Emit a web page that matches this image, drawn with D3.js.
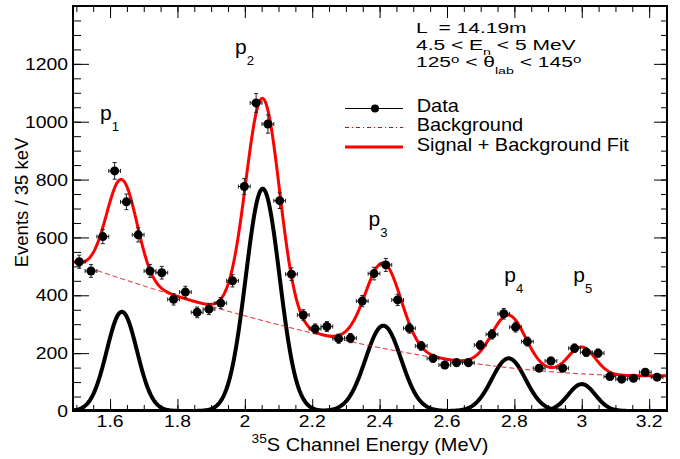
<!DOCTYPE html>
<html>
<head>
<meta charset="utf-8">
<script src="https://cdn.jsdelivr.net/npm/d3@7"></script>
<style>
body { margin: 0; background: #fff; }
text { font-family: "Liberation Sans", Arial, Helvetica, sans-serif; fill: #000; white-space: pre; }
</style>
</head>
<body>
<svg id="chart" width="680" height="459"></svg>
<script>
// bin centres (MeV) and counts per 35 keV bin
var energies = [1.5085, 1.5435, 1.5785, 1.6135, 1.6485, 1.6835, 1.7185, 1.7535, 1.7885, 1.8235,
                1.8585, 1.8935, 1.9285, 1.9635, 1.9985, 2.0335, 2.0685, 2.1035, 2.1385, 2.1735,
                2.2085, 2.2435, 2.2785, 2.3135, 2.3485, 2.3835, 2.4185, 2.4535, 2.4885, 2.5235,
                2.5585, 2.5935, 2.6285, 2.6635, 2.6985, 2.7335, 2.7685, 2.8035, 2.8385, 2.8735,
                2.9085, 2.9435, 2.9785, 3.0135, 3.0485, 3.0835, 3.1185, 3.1535, 3.1885, 3.2235];
var counts = [516, 484, 603, 830, 723, 609, 484, 478, 386, 411,
              341, 352, 373, 450, 776, 1065, 992, 727, 473, 332,
              284, 292, 250, 252, 380, 475, 505, 384, 286, 225,
              182, 159, 167, 167, 228, 265, 336, 290, 240, 148,
              173, 148, 217, 203, 200, 119, 110, 113, 134, 117];
var binHalfWidth = 0.0175;

// fitted peaks p1..p5 (gaussians)
var peakNames = ["1", "2", "3", "4", "5"];
var peakCenters = [1.635, 2.053, 2.411, 2.783, 3.0];
var peakAmps = [343, 768, 295, 182, 93];
var peakSigmas = [0.045, 0.05, 0.053, 0.05, 0.04];
// background polynomial in (E - 1.5)
var bgCoefs = [509.9, -401.65, 70.34, 18.58];
var bgStart = 1.54;

// peak label anchors (data coords)
var peakLabelE = [1.570, 1.971, 2.367, 2.770, 2.975];
var peakLabelY = [1005, 1235, 638, 446, 446];

var xTicks = [1.6, 1.8, 2, 2.2, 2.4, 2.6, 2.8, 3, 3.2];
var yTicks = [0, 200, 400, 600, 800, 1000, 1200];

var pl = 73, pr = 667, pt = 6, pb = 411;
var svg = d3.select("#chart");

var x = d3.scaleLinear().domain([1.49, 3.253]).range([pl, pr]);
var y = d3.scaleLinear().domain([0, 1400]).range([pb, pt]);

function gauss(e, i) {
  var z = (e - peakCenters[i]) / peakSigmas[i];
  return peakAmps[i] * Math.exp(-0.5 * z * z);
}
function bg(e) {
  var t = e - 1.5, s = 0;
  for (var k = bgCoefs.length - 1; k >= 0; k--) s = s * t + bgCoefs[k];
  return s;
}
function total(e) {
  var s = bg(e);
  for (var i = 0; i < peakCenters.length; i++) s += gauss(e, i);
  return s;
}

// text helper, with the slightly wide ROOT lettering
function label(parent, px, py, parts, size, anchor, sx) {
  var g = parent.append("g").attr("transform", "translate(" + px + "," + py + ") scale(" + (sx || 1) + ",1)");
  var t = g.append("text").attr("text-anchor", anchor || "start").style("font-size", size + "px");
  var cur = 0;
  parts.forEach(function(p) {
    var d = p.dy || 0;
    t.append("tspan").attr("dy", d - cur).style("font-size", (p.size || size) + "px").text(p.t);
    cur = d;
  });
  return t;
}

svg.append("defs").append("clipPath").attr("id", "clip")
  .append("rect").attr("x", pl).attr("y", pt).attr("width", pr - pl).attr("height", pb - pt + 1);

var plot = svg.append("g").attr("clip-path", "url(#clip)");

var grid = d3.range(1.49, 3.2531, 0.002);
var line = d3.line().x(function(d) { return x(d[0]); }).y(function(d) { return y(d[1]); });

// signal peaks
peakCenters.forEach(function(c, i) {
  plot.append("path")
    .datum(grid.map(function(e) { return [e, gauss(e, i)]; }))
    .attr("d", line)
    .attr("fill", "none").attr("stroke", "#000").attr("stroke-width", 4);
});

// background
plot.append("path")
  .datum(grid.filter(function(e) { return e >= bgStart; }).map(function(e) { return [e, bg(e)]; }))
  .attr("d", line)
  .attr("fill", "none").attr("stroke", "#e8000b").attr("stroke-width", 1)
  .attr("stroke-dasharray", "5,3");

// signal + background fit
plot.append("path")
  .datum(grid.map(function(e) { return [e, total(e)]; }))
  .attr("d", line)
  .attr("fill", "none").attr("stroke", "#ff0000").attr("stroke-width", 3);

// data points with error bars
var pts = plot.selectAll("g.pt").data(energies.map(function(e, i) { return { e: e, n: counts[i] }; }))
  .enter().append("g").attr("class", "pt");
pts.append("path")
  .attr("d", function(d) {
    var x0 = x(d.e - binHalfWidth), x1 = x(d.e + binHalfWidth), cx = x(d.e), cy = y(d.n);
    var err = Math.sqrt(d.n), y0 = y(d.n - err), y1 = y(d.n + err);
    return "M" + x0 + "," + cy + "H" + x1 +
      "M" + x0 + "," + (cy - 2) + "V" + (cy + 2) +
      "M" + x1 + "," + (cy - 2) + "V" + (cy + 2) +
      "M" + cx + "," + y0 + "V" + y1 +
      "M" + (cx - 2) + "," + y0 + "H" + (cx + 2) +
      "M" + (cx - 2) + "," + y1 + "H" + (cx + 2);
  })
  .attr("stroke", "#222").attr("stroke-width", 1).attr("fill", "none");
pts.append("circle")
  .attr("cx", function(d) { return x(d.e); })
  .attr("cy", function(d) { return y(d.n); })
  .attr("r", 4.5).attr("fill", "#000");

// axes (ticks inward, ROOT style)
function ticks(axis, tr, vals, size) {
  var g = svg.append("g").attr("transform", tr)
    .call(axis.tickValues(vals).tickSizeInner(-size).tickSizeOuter(0).tickFormat(""));
  g.select(".domain").remove();
  g.selectAll("line").attr("stroke", "#000").attr("stroke-width", 1);
}
var xMinor = x.ticks(36), yMinor = y.ticks(28);
ticks(d3.axisBottom(x), "translate(0," + pb + ")", xTicks, 12);
ticks(d3.axisBottom(x), "translate(0," + pb + ")", xMinor, 6);
ticks(d3.axisTop(x), "translate(0," + pt + ")", xTicks, 12);
ticks(d3.axisTop(x), "translate(0," + pt + ")", xMinor, 6);
ticks(d3.axisLeft(y), "translate(" + pl + ",0)", yTicks, 16);
ticks(d3.axisLeft(y), "translate(" + pl + ",0)", yMinor, 8);
ticks(d3.axisRight(y), "translate(" + pr + ",0)", yTicks, 13);
ticks(d3.axisRight(y), "translate(" + pr + ",0)", yMinor, 6);

svg.append("rect").attr("x", pl).attr("y", pt)
  .attr("width", pr - pl).attr("height", pb - pt)
  .attr("fill", "none").attr("stroke", "#000").attr("stroke-width", 2);

// tick labels
xTicks.forEach(function(v) { label(svg, x(v), pb + 16, [{ t: String(v) }], 17, "middle", 1.14); });
yTicks.forEach(function(v) { label(svg, pl - 5, y(v) + 6.2, [{ t: String(v) }], 17, "end", 1.14); });

// axis titles
label(svg, (pl + pr) / 2, 450.5, [{ t: "35", size: 12, dy: -8 }, { t: "S Channel Energy (MeV)", dy: 0 }], 17.5, "middle", 1.14);
svg.append("text")
  .attr("transform", "translate(28," + ((pt + pb) / 2 - 6) + ") rotate(-90)")
  .attr("text-anchor", "middle").style("font-size", "18.5px")
  .text("Events / 35 keV");

// peak labels
peakNames.forEach(function(nm, i) {
  label(svg, x(peakLabelE[i]), y(peakLabelY[i]), [{ t: "p", size: 20 }, { t: nm, size: 12.5, dy: 11 }], 20, "start", 1.05);
});

// info text
label(svg, 416, 32.7, [{ t: "L  = 14.19m" }], 14, "start", 1.5);
label(svg, 416, 49.5, [{ t: "4.5 < E" }, { t: "n", size: 9.5, dy: 5 }, { t: " < 5 MeV", dy: 0 }], 14, "start", 1.5);
label(svg, 416, 66.7, [{ t: "125" }, { t: "o", size: 10, dy: -4 }, { t: " < \u03b8", dy: 0 },
  { t: "lab", size: 9.5, dy: 7 }, { t: " < 145", dy: 0 }, { t: "o", size: 10, dy: -4 }], 14, "start", 1.5);

// legend
var lg = svg.append("g");
lg.append("line").attr("x1", 345).attr("x2", 403).attr("y1", 108.5).attr("y2", 108.5)
  .attr("stroke", "#000").attr("stroke-width", 1);
lg.append("circle").attr("cx", 375).attr("cy", 108.5).attr("r", 4).attr("fill", "#000");
lg.append("line").attr("x1", 345).attr("x2", 403).attr("y1", 127.5).attr("y2", 127.5)
  .attr("stroke", "#e8000b").attr("stroke-width", 1).attr("stroke-dasharray", "4,3,1,3");
lg.append("line").attr("x1", 345).attr("x2", 403).attr("y1", 147).attr("y2", 147)
  .attr("stroke", "#ff0000").attr("stroke-width", 3);
label(lg, 416.7, 111.7, [{ t: "Data" }], 17.5, "start", 1.14);
label(lg, 416.7, 130.8, [{ t: "Background" }], 17.5, "start", 1.14);
label(lg, 416.7, 150.8, [{ t: "Signal + Background Fit" }], 17.5, "start", 1.14);
</script>
</body>
</html>
